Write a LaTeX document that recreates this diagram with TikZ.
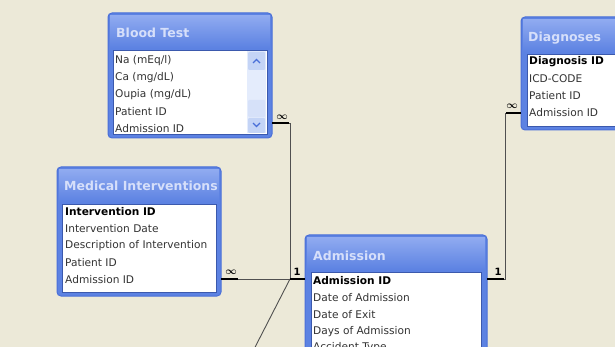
\documentclass[tikz,border=0pt]{standalone}
\usepackage{fontspec}
\setmainfont{DejaVu Sans}
\usetikzlibrary{calc}
\definecolor{bg}{HTML}{ECE9D8}
\definecolor{tborder}{HTML}{4A6FD8}
\definecolor{tlight}{HTML}{8FAAF0}
\definecolor{tdark}{HTML}{5C82E2}
\definecolor{ttext}{HTML}{D6DFFA}
\definecolor{lnk}{HTML}{505050}
\definecolor{scroll}{HTML}{E4ECFC}
\definecolor{scrbtn}{HTML}{C4D4F6}
\tikzset{
  tablebox/.style={draw=tborder, line width=1pt, fill=tdark, rounded corners=4pt, inner sep=0pt},
  titlebar/.style={top color=tlight, bottom color=tdark, draw=none},
  fieldarea/.style={fill=white, draw=tborder!80!black, line width=0.6pt},
  ttl/.style={anchor=west, font=\fontsize{12.5}{13}\selectfont\bfseries, text=ttext, inner sep=0pt},
  fld/.style={anchor=west, font=\fontsize{10.6}{11}\selectfont, text=black!80, inner sep=0pt},
  key/.style={fld, font=\fontsize{10.6}{11}\selectfont\bfseries, text=black},
  rel/.style={draw=lnk, line width=0.9pt},
  relend/.style={draw=black, line width=2.4pt},
  card/.style={font=\fontsize{10}{10}\selectfont\bfseries\boldmath, inner sep=0pt, text=black}
}
\begin{document}
\begin{tikzpicture}[x=1pt,y=-1pt]
\useasboundingbox (0,0) rectangle (615,347);
\clip (0,0) rectangle (615,347);
\fill[bg] (0,0) rectangle (615,347);

% ---------- Blood Test ----------
\path[tablebox] (108,13) rectangle (272,138);
\node (bt) at (190,75.5) [minimum width=164pt, minimum height=125pt] {};
\path[titlebar] (110,16) rectangle (270,48);
\node[ttl] (bt-t) at (116,33) {Blood Test};
\path[fieldarea] (113,50) rectangle (267,134);
\fill[scroll] (247,51) rectangle (266,133);
\fill[scrbtn, rounded corners=1pt] (248,52) rectangle (265,70);
\fill[scrbtn!70!white, rounded corners=1pt] (248,100) rectangle (265,117);
\fill[scrbtn, rounded corners=1pt] (248,118) rectangle (265,133);
\draw[tborder, line width=1.4pt] (253,63) -- (256.5,59.5) -- (260,63);
\draw[tborder, line width=1.4pt] (253,123) -- (256.5,126.5) -- (260,123);
\node[fld] (bt-1) at (115,61) {Na (mEq/l)};
\node[fld] (bt-2) at (115,78) {Ca (mg/dL)};
\node[fld] (bt-3) at (115,95) {Oupia (mg/dL)};
\node[fld] (bt-4) at (115,112) {Patient ID};
\node[fld] (bt-5) at (115,129) {Admission ID};

% ---------- Medical Interventions ----------
\path[tablebox] (57,167) rectangle (221,296);
\node (mi) at (139,231.5) [minimum width=164pt, minimum height=129pt] {};
\path[titlebar] (59,170) rectangle (219,202);
\node[ttl] (mi-t) at (64,186) {Medical Interventions};
\path[fieldarea] (62,204) rectangle (216,292);
\node[key] (mi-1) at (65,212) {Intervention ID};
\node[fld] (mi-2) at (65,229) {Intervention Date};
\node[fld] (mi-3) at (65,246) {Description of Intervention};
\node[fld] (mi-4) at (65,263) {Patient ID};
\node[fld] (mi-5) at (65,280) {Admission ID};

% ---------- Admission ----------
\path[tablebox] (305,235) rectangle (487,370);
\node (ad) at (396,302.5) [minimum width=182pt, minimum height=135pt] {};
\path[titlebar] (307,238) rectangle (485,270);
\node[ttl] (ad-t) at (313,256) {Admission};
\path[fieldarea] (311,272) rectangle (481,370);
\node[key] (ad-1) at (313,281) {Admission ID};
\node[fld] (ad-2) at (313,298) {Date of Admission};
\node[fld] (ad-3) at (313,315) {Date of Exit};
\node[fld] (ad-4) at (313,332) {Days of Admission};
\node[fld] (ad-5) at (313,348) {Accident Type};

% ---------- Diagnoses ----------
\path[tablebox] (521,17) rectangle (640,130);
\node (dg) at (580,73.5) [minimum width=119pt, minimum height=113pt] {};
\path[titlebar] (523,20) rectangle (640,52);
\node[ttl] (dg-t) at (528,38) {Diagnoses};
\path[fieldarea] (527,54) rectangle (640,126);
\node[key] (dg-1) at (529,62) {Diagnosis ID};
\node[fld] (dg-2) at (529,79) {ICD-CODE};
\node[fld] (dg-3) at (529,96) {Patient ID};
\node[fld] (dg-4) at (529,113) {Admission ID};

% ---------- connection points ----------
\coordinate (p-bt) at (272,123);
\coordinate (p-mi) at (221,279);
\coordinate (p-ad-l) at (305,279);
\coordinate (p-ad-r) at (487,279);
\coordinate (p-dg) at (521,113);
\coordinate (j1) at (290,279);
\coordinate (patient) at (250,357);

% ---------- relationships ----------
\draw[rel] (p-bt) -- (p-bt -| j1) -- (j1) -- (p-ad-l);
\draw[rel] (p-mi) -- (p-ad-l);
\draw[rel] (p-dg) -- ($(p-dg)+(-16,0)$) |- (p-ad-r);
\draw[rel] (j1) -- (patient);

\draw[relend] (p-bt) -- ++(17,0);
\draw[relend] (p-mi) -- ++(17,0);
\draw[relend] (p-ad-l) -- ++(-15,0);
\draw[relend] (p-ad-r) -- ++(17,0);
\draw[relend] (p-dg) -- ++(-15,0);

\node[card] (c1) at (282,117) {$\infty$};
\node[card] (c2) at (231,272) {$\infty$};
\node[card] (c3) at (297,272) {1};
\node[card] (c4) at (498,272) {1};
\node[card] (c5) at (512,106) {$\infty$};
\end{tikzpicture}
\end{document}
